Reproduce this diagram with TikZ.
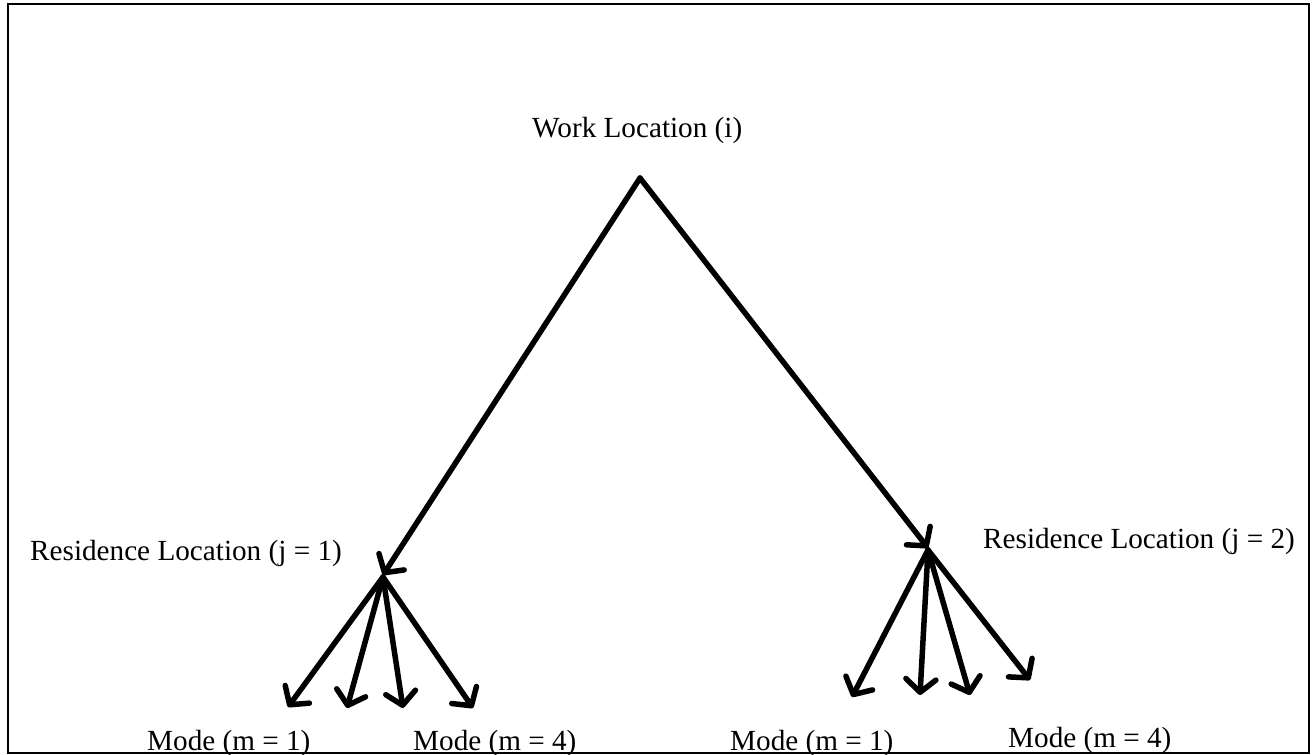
\documentclass[tikz,border=0pt]{standalone}
\usepackage{fontspec}
\setmainfont{Liberation Serif}
\usetikzlibrary{arrows.meta}
\begin{document}
\begin{tikzpicture}[x=1pt,y=-1pt,
  lbl/.style={inner sep=0pt,anchor=base west,font=\fontsize{29.2}{35}\selectfont},
  arr/.style={line width=5.5pt,line cap=round,-{Straight Barb[length=13pt,width=30pt,round]}},
  frame/.style={line width=2.2pt,draw=black}]
\useasboundingbox (0,0) rectangle (1312,755);
\draw[frame] (8,4) rectangle (1309,753);
% coordinates
\coordinate (w) at (640,178);
\coordinate (r1) at (383,575);
\coordinate (r2) at (928,548);
\coordinate (r1s) at (383,577);
\coordinate (r2s) at (928,550);
\coordinate (m11) at (288,707);
\coordinate (m12) at (347,708);
\coordinate (m13) at (403,708);
\coordinate (m14) at (473,708);
\coordinate (m21) at (852,697);
\coordinate (m22) at (920,695);
\coordinate (m23) at (970,695);
\coordinate (m24) at (1030,680);
% labels
\node[lbl] (tw) at (532,137) {Work Location (i)};
\node[lbl] (tr1) at (30,560) {Residence Location (j = 1)};
\node[lbl] (tr2) at (983,548) {Residence Location (j = 2)};
\node[lbl] (tm11) at (147,750) {Mode (m = 1)};
\node[lbl] (tm14) at (413,750) {Mode (m = 4)};
\node[lbl] (tm21) at (730,750) {Mode (m = 1)};
\node[lbl] (tm24) at (1008,747) {Mode (m = 4)};
% arrows
\draw[arr] (w) -- (r1);
\draw[arr] (w) -- (r2);
\foreach \t in {m11,m12,m13,m14} \draw[arr] (r1s) -- (\t);
\foreach \t in {m21,m22,m23,m24} \draw[arr] (r2s) -- (\t);
\end{tikzpicture}
\end{document}
